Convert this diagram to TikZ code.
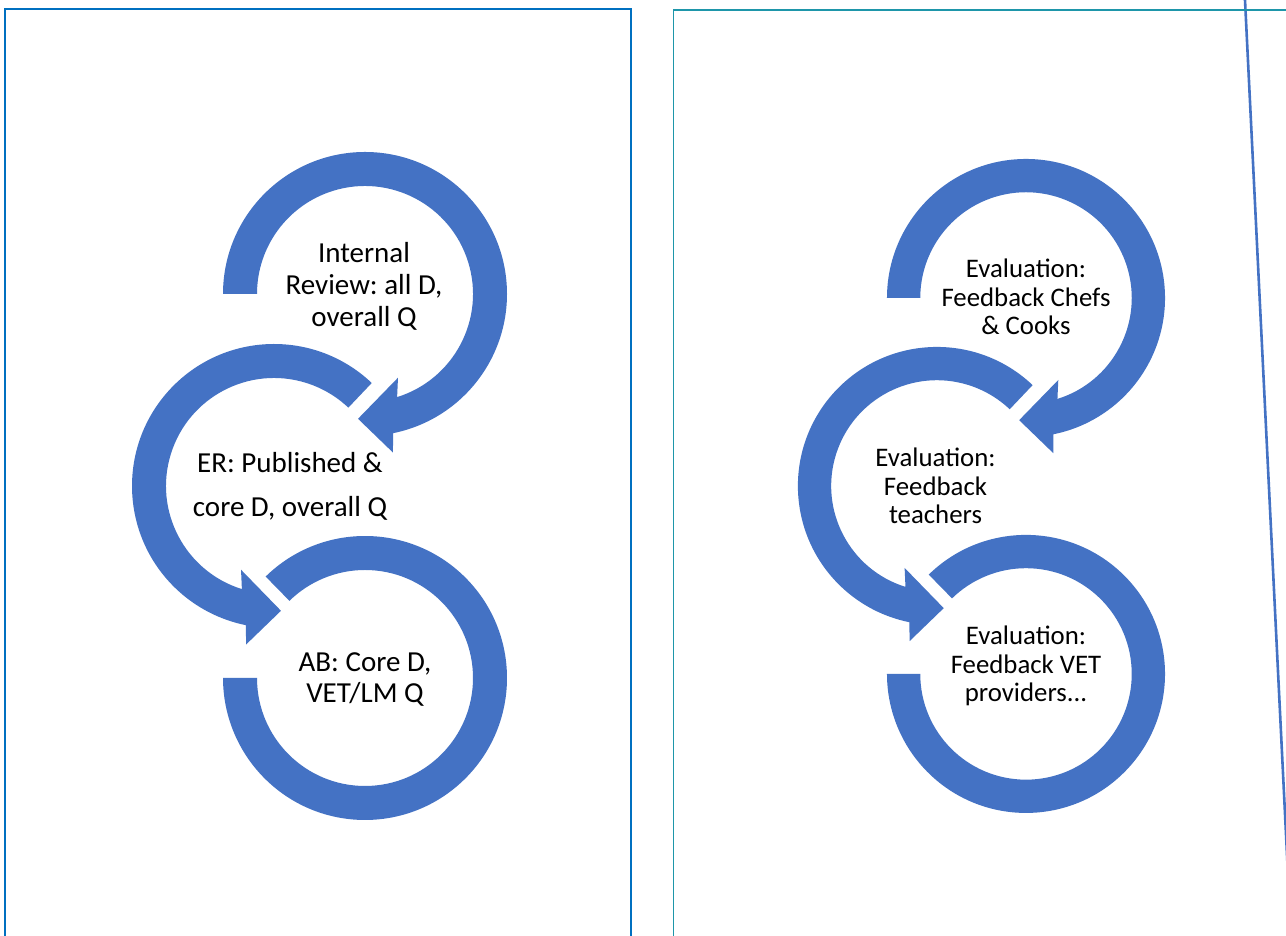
\documentclass[tikz,border=0pt]{standalone}
\usepackage{fontspec}
\setmainfont{Carlito}
\frenchspacing
\definecolor{arrowblue}{HTML}{4472C4}
\definecolor{panelblue}{HTML}{0070C0}
\definecolor{panelteal}{RGB}{30,150,170}
\tikzset{
  ring/.style={fill=arrowblue},
  panelA/.style={draw=panelblue, line width=1pt},
  panelB/.style={draw=panelteal, line width=0.9pt},
  slant/.style={draw=arrowblue, line width=1.3pt},
  labelA/.style={align=center, anchor=base, inner sep=0pt, font=\fontsize{14.5}{16}\selectfont},
  labelAwide/.style={labelA, font=\fontsize{14.5}{22}\selectfont},
  labelAmid/.style={labelA, font=\fontsize{14.5}{15.5}\selectfont},
  labelB/.style={align=center, anchor=base, inner sep=0pt, font=\fontsize{13.4}{14.25}\selectfont},
}
% three linked circular arrows, origin at the centre of the top ring
\newcommand{\ringtrio}{%
  \fill[ring] (180:142) arc[start angle=180,end angle=-78.6,radius=142]
    -- (-80:161) -- (-93.2:125) -- (-68.5:90) -- (-72.7:108)
    arc[start angle=-72.7,end angle=180,radius=108] -- cycle;
  \begin{scope}[shift={(-91,-192)}]
    \fill[ring] (46.5:142) arc[start angle=46.5,end angle=258.6,radius=142]
      -- (260:161) -- (273.2:125) -- (248.5:90) -- (252.7:108)
      arc[start angle=252.7,end angle=46.5,radius=108] -- cycle;
  \end{scope}
  \begin{scope}[shift={(0,-384)}]
    \fill[ring] (134.4:142) arc[start angle=134.4,end angle=-180,radius=142]
      -- (180:108) arc[start angle=-180,end angle=134.4,radius=108] -- cycle;
  \end{scope}}
\begin{document}
\begin{tikzpicture}[x=0.5pt,y=0.5pt]
  \useasboundingbox (0,0) rectangle (1286,936);
  \clip (0,0) rectangle (1286,936);
  \fill[white] (0,0) rectangle (1286,936);

  % slanted rule at the right edge
  \coordinate (slantTop) at (1244.5,946);
  \coordinate (slantEnd) at (1291,0);
  \draw[slant] (slantTop) -- (slantEnd);

  % panel frames
  \draw[panelA] (5,-10) -- (5,927) -- (631,927) -- (631,-10);
  \draw[panelB] (673.5,-10) -- (673.5,926) -- (1300,926);

  % left group
  \begin{scope}[shift={(365,642)}]
    \ringtrio
  \end{scope}
  \node[labelA] (ir) at (364,609) {Internal\\Review: all D,\\overall Q};
  \node[labelAwide] (er) at (290,419) {ER: Published \&\\core D, overall Q};
  \node[labelAmid] (ab) at (365,233) {AB: Core D,\\VET/LM Q};

  % right group
  \begin{scope}[shift={(1026,638)}, scale=0.979]
    \ringtrio
  \end{scope}
  \node[labelB] (chefs) at (1026,601) {Evaluation:\\Feedback Chefs\\\& Cooks};
  \node[labelB] (teach) at (935.5,412) {Evaluation:\\Feedback\\teachers};
  \node[labelB] (vet) at (1026,234) {Evaluation:\\Feedback VET\\providers...};
\end{tikzpicture}
\end{document}
